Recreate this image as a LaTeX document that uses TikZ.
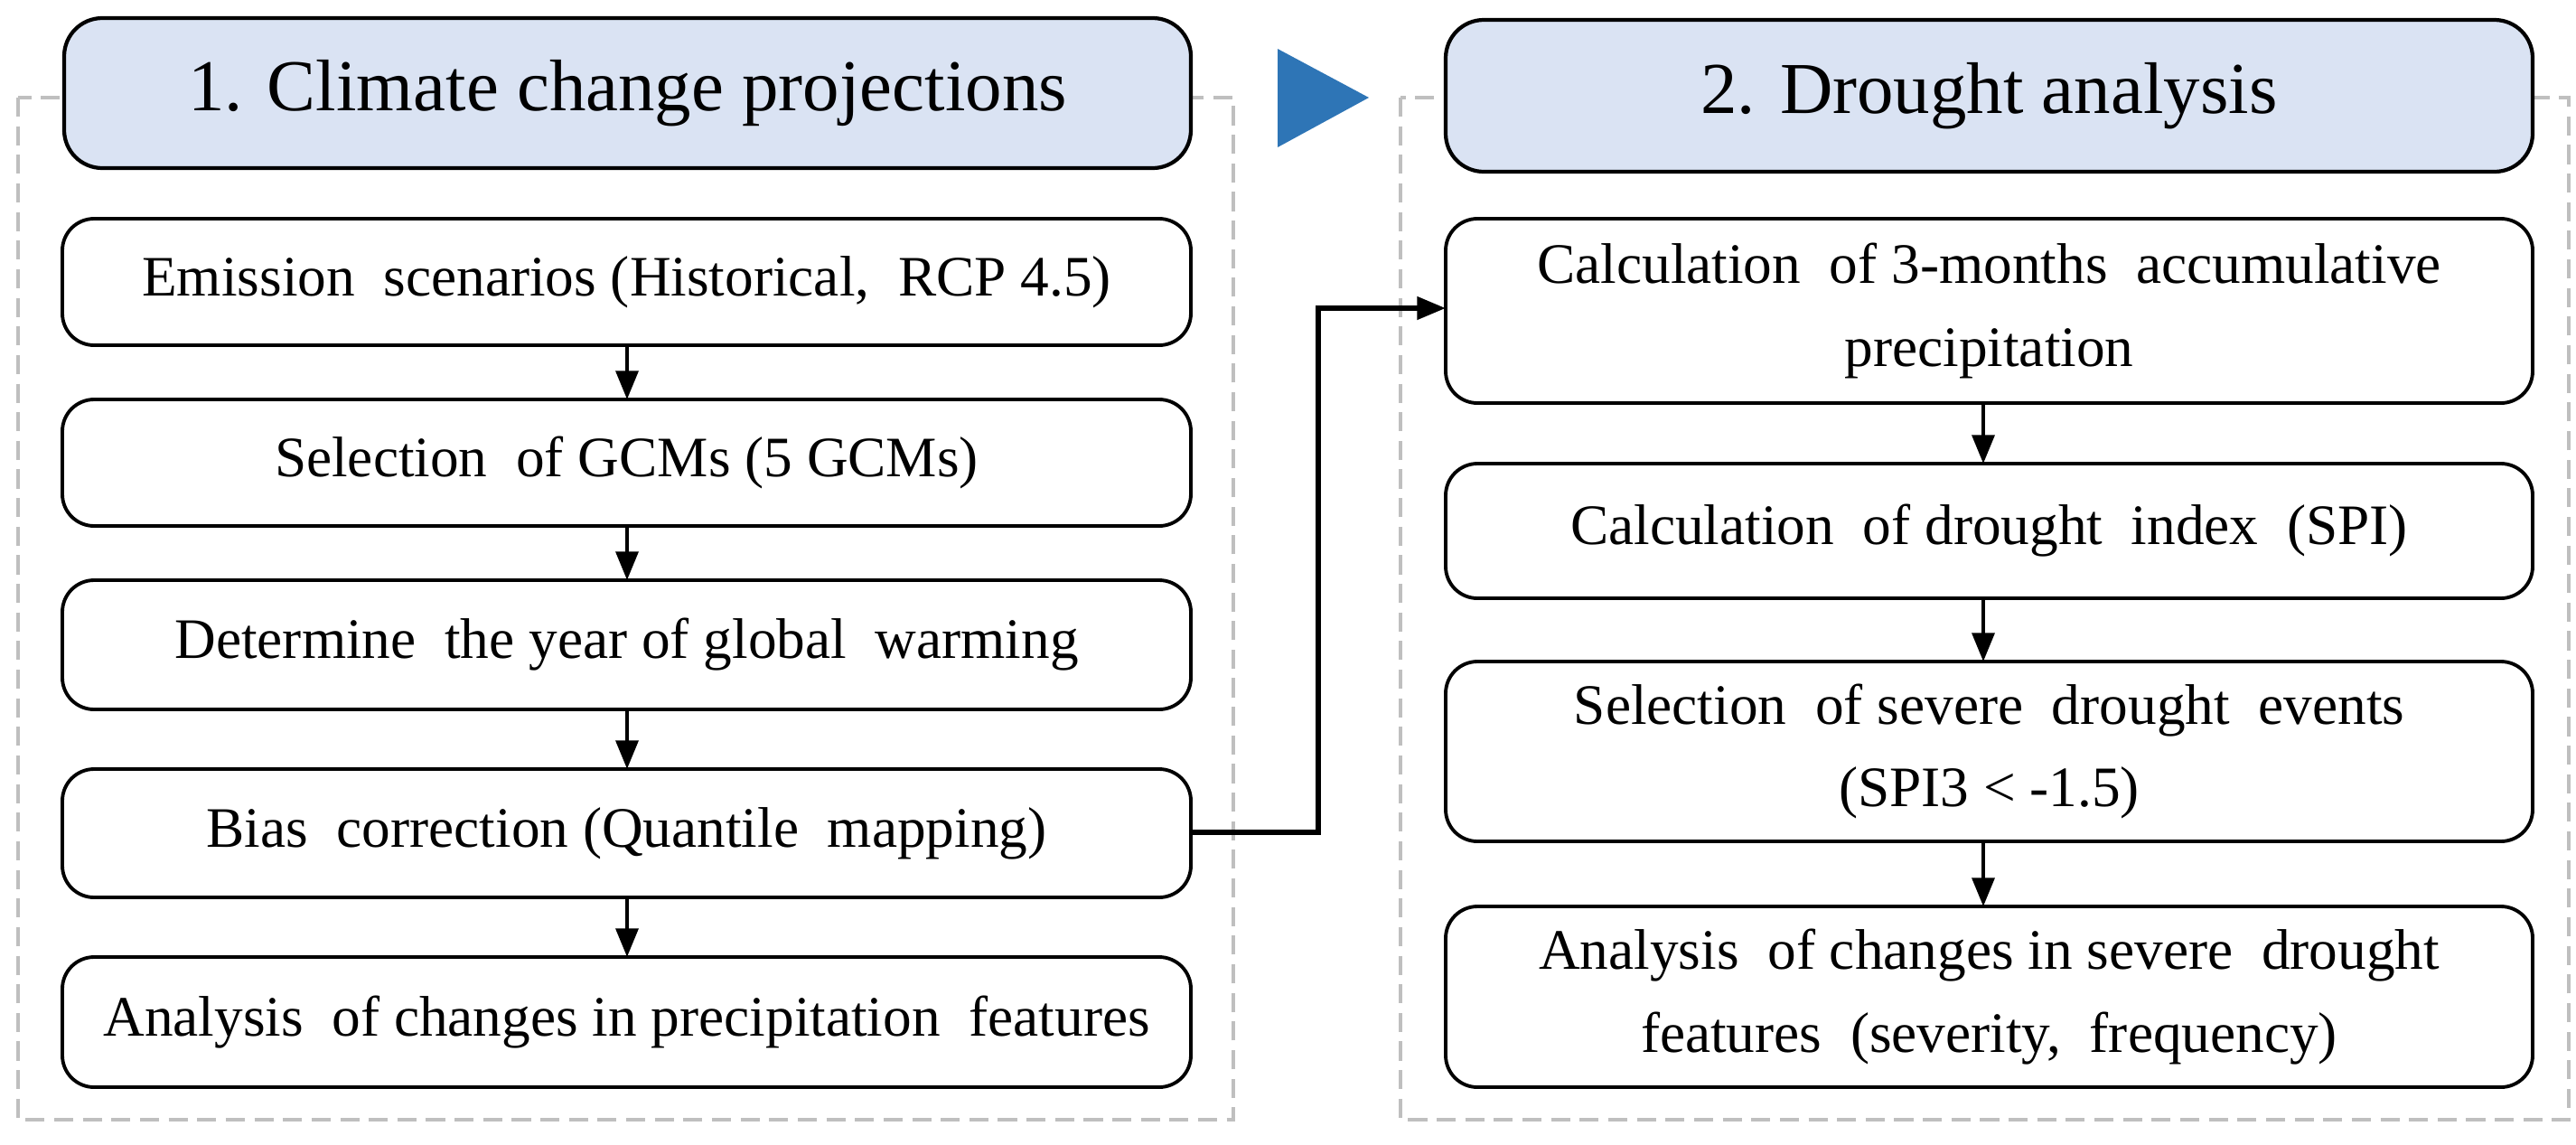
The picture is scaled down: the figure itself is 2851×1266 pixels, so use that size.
\documentclass[tikz,border=0pt]{standalone}
\usepackage{fontspec}
\setmainfont{Liberation Serif}
\usetikzlibrary{arrows.meta}
\begin{document}
\begin{tikzpicture}[x=0.01cm,y=-0.01cm,
  grp/.style={draw=black!25,line width=1.3pt,dash pattern=on 6pt off 3pt},
  hdr/.style={draw=black,line width=1.2pt,fill=hdrblue,rounded corners=12pt},
  box/.style={draw=black,line width=1.1pt,fill=white,rounded corners=10pt},
  txt/.style={font=\fontsize{18}{26}\selectfont,align=center},
  arr/.style={line width=1.3pt,-{Triangle[length=9pt,width=7pt]}}]
\definecolor{hdrblue}{HTML}{DAE3F3}
\definecolor{tri}{HTML}{2E75B6}
\useasboundingbox (0,0) rectangle (2851,1266);
% groups
\draw[grp] (20,108) rectangle (1365,1239);
\draw[grp] (1550,108) rectangle (2843,1239);
% headers
\draw[hdr] (71,20) rectangle node[font=\fontsize{23}{28}\selectfont] (h1) {1. Climate change projections} (1318,186);
\draw[hdr] (1600,22) rectangle node[font=\fontsize{23}{28}\selectfont] (h2) {2. Drought analysis} (2803,190);
\fill[tri] (1414,54) -- (1515,108) -- (1414,163) -- cycle;
% left boxes
\draw[box] (69,242) rectangle node[txt] (a1) {Emission\ \ scenarios (Historical,\ \ RCP 4.5)} (1318,382);
\draw[box] (69,442) rectangle node[txt] (a2) {Selection\ \ of GCMs (5 GCMs)} (1318,582);
\draw[box] (69,642) rectangle node[txt] (a3) {Determine\ \ the year of global\ \ warming} (1318,785);
\draw[box] (69,851) rectangle node[txt] (a4) {Bias\ \ correction (Quantile\ \ mapping)} (1318,993);
\draw[box] (69,1059) rectangle node[txt] (a5) {Analysis\ \ of changes in precipitation\ \ features} (1318,1203);
\coordinate (a1b) at (694,382); \coordinate (a2t) at (694,442);
\coordinate (a2b) at (694,582); \coordinate (a3t) at (694,642);
\coordinate (a3b) at (694,785); \coordinate (a4t) at (694,851);
\coordinate (a4b) at (694,993); \coordinate (a5t) at (694,1059);
\draw[arr] (a1b) -- (a2t);
\draw[arr] (a2b) -- (a3t);
\draw[arr] (a3b) -- (a4t);
\draw[arr] (a4b) -- (a5t);
% right boxes
\draw[box] (1600,242) rectangle node[txt] (b1) {Calculation\ \ of 3-months\ \ accumulative\\precipitation} (2803,446);
\draw[box] (1600,513) rectangle node[txt] (b2) {Calculation\ \ of drought\ \ index\ \ (SPI)} (2803,662);
\draw[box] (1600,732) rectangle node[txt] (b3) {Selection\ \ of severe\ \ drought\ \ events\\(SPI3 \textless\ -1.5)} (2803,931);
\draw[box] (1600,1003) rectangle node[txt] (b4) {Analysis\ \ of changes in severe\ \ drought\\features\ \ (severity,\ \ frequency)} (2803,1203);
\coordinate (b1b) at (2195,446); \coordinate (b2t) at (2195,513);
\coordinate (b2b) at (2195,662); \coordinate (b3t) at (2195,732);
\coordinate (b3b) at (2195,931); \coordinate (b4t) at (2195,1003);
\draw[arr] (b1b) -- (b2t);
\draw[arr] (b2b) -- (b3t);
\draw[arr] (b3b) -- (b4t);
% connector
\coordinate (c1) at (1318,921);
\coordinate (c2) at (1600,341);
\draw[arr,line width=1.6pt] (c1) -- (1459,921) -- (1459,341) -- (c2);
\end{tikzpicture}
\end{document}
